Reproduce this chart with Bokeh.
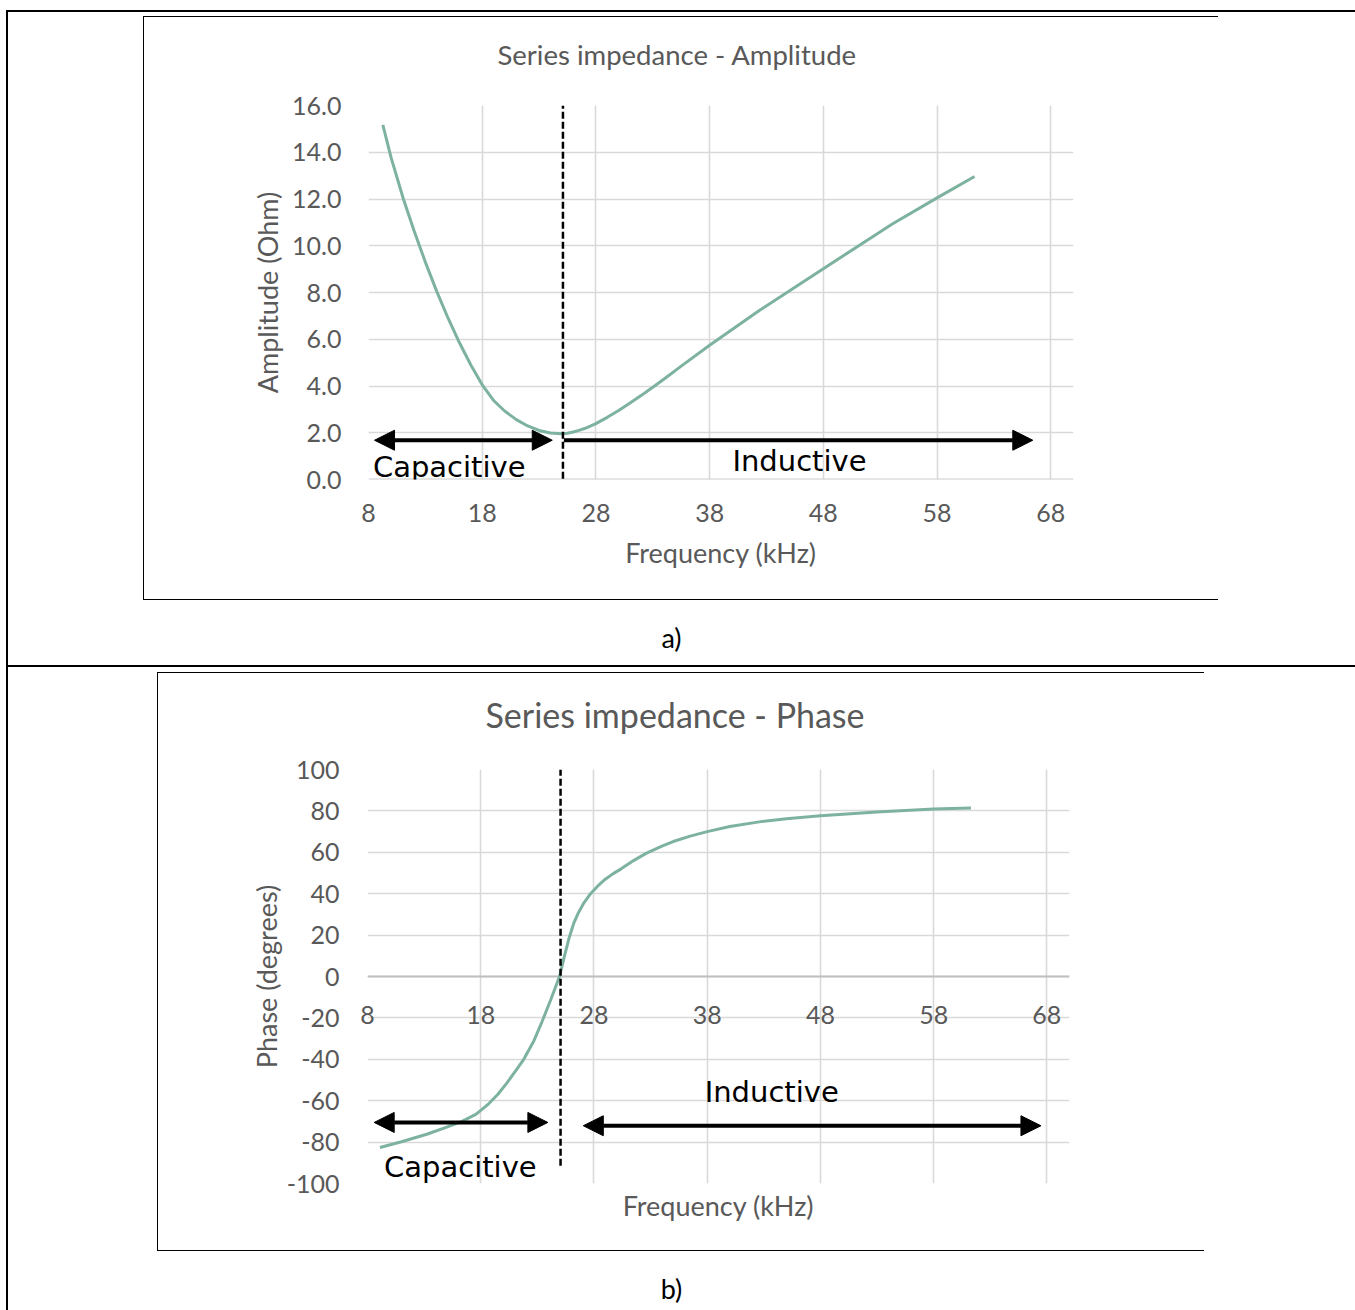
from bokeh.plotting import figure
from bokeh.layouts import column, row
from bokeh.models import (Range1d, FixedTicker, PrintfTickFormatter, Span, Arrow, NormalHead,
                          Label, Title, Spacer)
from bokeh.core.properties import value
from bokeh.embed import file_html
from bokeh.resources import INLINE

# ---------------- data ----------------
freq_amp = [9.26, 10.0, 11.07, 12.0, 13.0, 14.0, 15.0, 16.0, 17.0, 18.0, 19.0, 20.0, 21.0,
            22.0, 23.0, 24.0, 25.0, 25.5, 26.0, 26.5, 27.0, 27.5, 28.0, 29.0, 30.0, 31.0,
            32.0, 33.0, 34.0, 35.5, 38.0, 42.4, 48.0, 54.1, 58.0, 61.3]
amplitude = [15.17, 13.75, 12.0, 10.65, 9.3, 8.05, 6.9, 5.85, 4.9, 4.05, 3.38, 2.92, 2.56,
             2.29, 2.1, 1.99, 1.96, 1.98, 2.03, 2.1, 2.18, 2.28, 2.39, 2.66, 2.95, 3.27,
             3.6, 3.95, 4.3, 4.85, 5.74, 7.24, 9.02, 10.94, 12.05, 12.96]

freq_phase = [9.1, 11.0, 13.3, 15.0, 16.35, 17.6, 18.7, 19.5, 20.3, 21.1, 21.8, 22.7, 23.4,
              24.2, 24.96, 25.4, 25.8, 26.2, 26.6, 27.1, 27.7, 28.3, 29.0, 29.7, 30.4, 31.5,
              32.6, 34.0, 35.0, 36.5, 38.0, 40.0, 42.6, 45.0, 48.0, 53.0, 58.0, 61.3]
phase = [-82.6, -79.8, -76.1, -72.8, -70.0, -66.5, -61.5, -57.0, -51.5, -45.5, -40.0, -31.0,
         -22.0, -11.0, 0.0, 10.0, 18.5, 25.5, 30.5, 35.5, 40.0, 43.5, 47.0, 49.7, 52.0, 56.0,
         59.5, 63.0, 65.2, 67.8, 70.0, 72.5, 74.7, 76.2, 77.6, 79.5, 80.9, 81.4]

x_ticks = [8, 18, 28, 38, 48, 58, 68]
amp_ticks = [0, 2, 4, 6, 8, 10, 12, 14, 16]
phase_ticks = [-100, -80, -60, -40, -20, 0, 20, 40, 60, 80, 100]
x_limits = (8, 70)
amp_limits = (0, 16)
phase_limits = (-100, 100)
resonance_khz = 25.1

# region annotations (x_start, x_end, y) in data units
amp_cap_arrow = (8.53, 24.16, 1.68)
amp_ind_arrow = (25.18, 66.42, 1.68)
phase_cap_arrow = (8.59, 23.93, -70.5)
phase_ind_arrow = (27.06, 67.48, -72.1)
amp_dash = (-0.4, 16.0)
phase_dash = (-91.4, 100.0)
amp_labels = {"text": ["Capacitive", "Inductive"], "x": [15.1, 45.9], "y": [0.54, 0.78]}
phase_labels = {"text": ["Capacitive", "Inductive"], "x": [16.2, 43.7], "y": [-91.9, -55.7]}

GREY = "#595959"
GRID = "#d9d9d9"
CURVE = "#7db39e"
UI_FONT = "Lato"
NOTE_FONT = "DejaVu Sans"


def blk(w, h):
    # a plain black rule of the surrounding table / chart box
    return Spacer(width=w, height=h, margin=0, styles={"background-color": "black"})


def gap(w, h):
    return Spacer(width=w, height=h, margin=0)


def caption(w, h, text, sx, sy):
    f = figure(width=w, height=h, min_border=0, toolbar_location=None, tools="", title=None,
               x_axis_type=None, y_axis_type=None, output_backend="svg",
               background_fill_color="white", border_fill_color="white", outline_line_color=None)
    f.add_layout(Label(x=sx, y=sy, x_units="screen", y_units="screen", text=text,
                       text_font=UI_FONT, text_font_size="27px", text_color="black",
                       text_align="center", text_baseline="middle"))
    return f


def chart(w, h, fl, fw, ft, fh, y_limits, title, title_size, title_offset, gap_standoff):
    p = figure(frame_width=fw, frame_height=fh,
               min_border_left=fl, min_border_right=w - fl - fw,
               min_border_top=ft, min_border_bottom=h - ft - fh,
               x_range=Range1d(*x_limits), y_range=Range1d(*y_limits),
               output_backend="svg", toolbar_location=None, tools="")
    p.outline_line_color = None
    p.background_fill_color = "white"
    p.border_fill_color = "white"
    # empty spacer title between frame and the chart title
    p.add_layout(Title(text=" ", text_font_size="10px", standoff=gap_standoff), "above")
    p.title.text = title
    p.title.align = "left"
    p.title.offset = title_offset
    p.title.standoff = 4
    p.title.text_font = UI_FONT
    p.title.text_font_size = title_size
    p.title.text_font_style = "normal"
    p.title.text_color = GREY
    for ax in (p.xaxis[0], p.yaxis[0]):
        ax.axis_line_color = None
        ax.major_tick_line_color = None
        ax.minor_tick_line_color = None
        ax.major_label_text_font = UI_FONT
        ax.major_label_text_color = GREY
        ax.major_label_text_font_size = "25px"
        ax.axis_label_text_font = UI_FONT
        ax.axis_label_text_color = GREY
        ax.axis_label_text_font_style = "normal"
        ax.axis_label_text_font_size = "27px"
    p.xaxis.ticker = FixedTicker(ticks=x_ticks)
    p.xgrid.ticker = FixedTicker(ticks=x_ticks)
    p.xgrid.grid_line_color = GRID
    p.ygrid.grid_line_color = GRID
    p.xgrid.grid_line_width = 1.6
    p.ygrid.grid_line_width = 1.6
    return p


def add_arrow(p, spec, both):
    x0, x1, y = spec
    head = dict(size=20, fill_color="black", line_color="black", line_width=1)
    p.add_layout(Arrow(x_start=x0, y_start=y, x_end=x1, y_end=y,
                       start=NormalHead(**head) if both else None,
                       end=NormalHead(**head), line_width=4, line_color="black"))


# ---------------- a) amplitude ----------------
p1 = chart(1074, 582, 224, 705, 88, 374, amp_limits, "Series impedance - Amplitude", "27.5px", 129, 20)
p1.yaxis.ticker = FixedTicker(ticks=amp_ticks)
p1.ygrid.ticker = FixedTicker(ticks=amp_ticks)
p1.yaxis.formatter = PrintfTickFormatter(format="%.1f")
p1.yaxis.axis_label = "Amplitude (Ohm)"
p1.xaxis.axis_label = "Frequency (kHz)"
p1.yaxis.major_label_standoff = 21
p1.yaxis.axis_label_standoff = 5
p1.xaxis.major_label_standoff = 18
p1.xaxis.axis_label_standoff = 11
p1.add_layout(Span(location=0, dimension="width", line_color="#cccccc", line_width=2, level="underlay"))
p1.line(freq_amp, amplitude, line_color=CURVE, line_width=3)
p1.segment(x0=[resonance_khz], y0=[amp_dash[0]], x1=[resonance_khz], y1=[amp_dash[1]],
           line_color="black", line_width=2.5, line_dash="7 3")
add_arrow(p1, amp_cap_arrow, True)
add_arrow(p1, amp_ind_arrow, False)
p1.text(x=amp_labels["x"], y=amp_labels["y"], text=amp_labels["text"],
        text_font=value(NOTE_FONT), text_font_size="29px", text_color="black",
        text_align="center", text_baseline="middle")

# ---------------- b) phase ----------------
p2 = chart(1046, 577, 209, 702, 96, 414, phase_limits, "Series impedance - Phase", "34px", 118, 20)
p2.yaxis.ticker = FixedTicker(ticks=phase_ticks)
p2.ygrid.ticker = FixedTicker(ticks=phase_ticks)
p2.yaxis.formatter = PrintfTickFormatter(format="%d")
p2.yaxis.axis_label = "Phase (degrees)"
p2.xaxis.axis_label = "Frequency (kHz)"
p2.yaxis.major_label_standoff = 22
p2.yaxis.axis_label_standoff = 1
p2.xaxis.major_label_standoff = -184
p2.xaxis.axis_label_standoff = 162
p2.add_layout(Span(location=0, dimension="width", line_color="#bfbfbf", line_width=2, level="underlay"))
p2.line(freq_phase, phase, line_color=CURVE, line_width=3)
p2.segment(x0=[resonance_khz - 0.05], y0=[phase_dash[0]], x1=[resonance_khz - 0.05], y1=[phase_dash[1]],
           line_color="black", line_width=2.5, line_dash="7 3")
add_arrow(p2, phase_cap_arrow, True)
add_arrow(p2, phase_ind_arrow, True)
p2.text(x=phase_labels["x"], y=phase_labels["y"], text=phase_labels["text"],
        text_font=value(NOTE_FONT), text_font_size="29px", text_color="black",
        text_align="center", text_baseline="middle")

# ---------------- page layout (table cells and chart boxes) ----------------
box1 = column(blk(1075, 1), row(blk(1, 582), p1), blk(1075, 1))
top_cell = column(gap(1347, 4),
                  row(gap(135, 584), box1, gap(137, 584)),
                  caption(1347, 65, "a)", 663, 28))
box2 = column(blk(1047, 1), row(blk(1, 577), p2), blk(1047, 1))
bottom_cell = column(gap(1347, 5),
                     row(gap(149, 579), box2, gap(151, 579)),
                     caption(1347, 59, "b)", 663, 22))
right_col = column(blk(1347, 2), top_cell, blk(1347, 2), bottom_cell)
page = column(gap(1355, 10),
              row(gap(6, 1300), blk(2, 1300), right_col))

open("out.html", "w").write(file_html(page, INLINE))
